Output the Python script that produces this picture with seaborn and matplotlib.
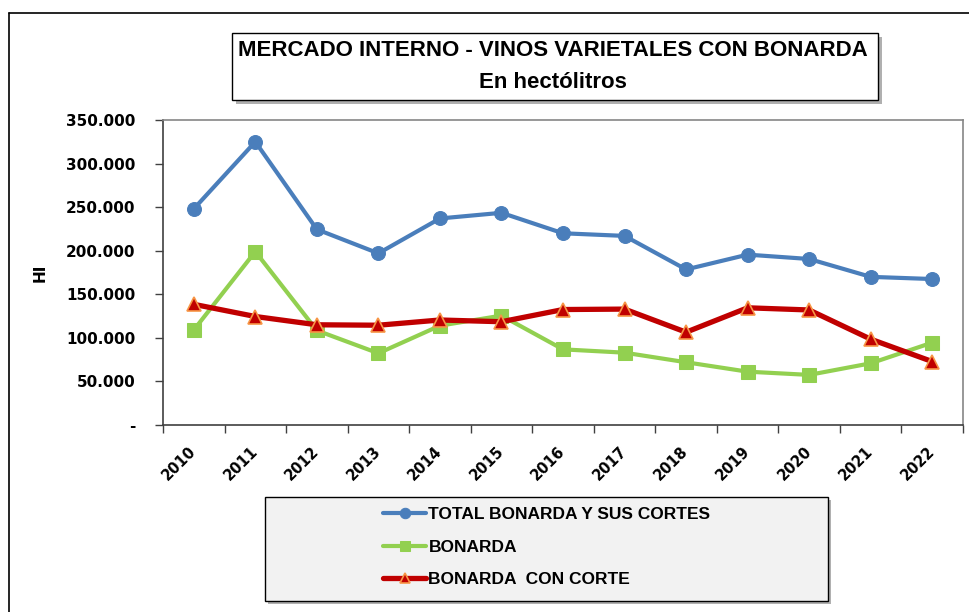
import matplotlib
matplotlib.use("Agg")
import numpy as np
import pandas as pd
import seaborn as sns
import matplotlib.pyplot as plt
from matplotlib.patches import Rectangle
from matplotlib.lines import Line2D

years = ["2010", "2011", "2012", "2013", "2014", "2015", "2016",
         "2017", "2018", "2019", "2020", "2021", "2022"]
total_bonarda = [248000, 325000, 224500, 197000, 237000, 243500, 220000,
                 217000, 178500, 195500, 190500, 170000, 167500]
bonarda = [109000, 199000, 108500, 82300, 114000, 125500, 86800,
           83000, 72000, 61200, 57500, 70800, 94500]
bonarda_corte = [138500, 124500, 115000, 114500, 120500, 118500, 132500,
                 133000, 106500, 134500, 132000, 98500, 72800]
ytick_values = [0, 50000, 100000, 150000, 200000, 250000, 300000, 350000]
ytick_labels = ["-", "50.000", "100.000", "150.000", "200.000", "250.000",
                "300.000", "350.000"]
series_names = ["TOTAL BONARDA Y SUS CORTES", "BONARDA", "BONARDA  CON CORTE"]
title_line1 = "MERCADO INTERNO - VINOS VARIETALES CON BONARDA"
title_line2 = "En hectólitros"
ylabel = "HI"

sns.set_theme(style="white")
plt.rcParams["font.family"] = ["DejaVu Sans"]
plt.rcParams["text.color"] = "black"
plt.rcParams["axes.labelcolor"] = "black"
plt.rcParams["xtick.color"] = "black"
plt.rcParams["ytick.color"] = "black"
narrow = ["Liberation Sans", "DejaVu Sans"]

W, H = 970, 612
fig = plt.figure(figsize=(W / 100, H / 100), dpi=100)
fig.patch.set_facecolor("white")

def fx(px):
    return px / W

def fy(py):
    return 1 - py / H

ax = fig.add_axes([fx(163), fy(425), fx(963) - fx(163), fy(120) - fy(425)])

xpos = np.arange(len(years))
df = pd.DataFrame({"x": xpos, "total": total_bonarda, "bon": bonarda, "corte": bonarda_corte})

sns.lineplot(data=df, x="x", y="total", ax=ax, color="#4a7ebb", lw=3.0,
             marker="o", markersize=10, markeredgecolor="#4a7ebb",
             label=series_names[0], sort=False)
sns.lineplot(data=df, x="x", y="bon", ax=ax, color="#92d050", lw=3.0,
             marker="s", markersize=9.5, markeredgecolor="#92d050",
             label=series_names[1], sort=False)
sns.lineplot(data=df, x="x", y="corte", ax=ax, color="#c00000", lw=3.8,
             marker="^", markersize=10, markeredgecolor="#f79646", markeredgewidth=1.2,
             label=series_names[2], sort=False)

ax.set_ylim(0, 350000)
ax.set_yticks(ytick_values)
ax.set_yticklabels(ytick_labels, fontsize=11, fontweight="bold", color="black")
ax.set_xlim(-0.5, len(years) - 0.5)
ax.set_xticks(np.arange(-0.5, len(years), 1.0))
ax.set_xticklabels([])
ax.set_xticks(xpos, minor=True)
ax.set_xticklabels(years, minor=True, rotation=45, ha="right", va="center",
                   rotation_mode="anchor", fontsize=10.5, fontweight="bold", color="black")
ax.tick_params(axis="x", which="major", direction="out", length=6, width=1, color="#404040", bottom=True)
ax.tick_params(axis="x", which="minor", length=0, pad=17, bottom=True)
ax.tick_params(axis="y", which="major", direction="out", length=6, width=1, color="#404040", left=True, pad=14)
ax.set_xlabel("")
ax.set_ylabel(ylabel, fontsize=11, fontweight="bold", color="black")
ax.yaxis.set_label_coords((48 - 163) / 800, 0.5)

for s in ["left", "bottom"]:
    ax.spines[s].set_color("#404040")
    ax.spines[s].set_linewidth(1.2)
for s in ["top", "right"]:
    ax.spines[s].set_color("#868686")
    ax.spines[s].set_linewidth(1.2)
ax.grid(False)

handles, labels = ax.get_legend_handles_labels()
ax.get_legend().remove()

# outer frame
fig.add_artist(Line2D([fx(9), fx(9)], [0, fy(13)], color="black", lw=1.2, transform=fig.transFigure))
fig.add_artist(Line2D([fx(9), 1], [fy(13), fy(13)], color="black", lw=1.2, transform=fig.transFigure))

# title box
fig.add_artist(Rectangle((fx(236), fy(104)), fx(878) - fx(232), fy(33) - fy(100),
                         transform=fig.transFigure, facecolor="#b0b0b0", edgecolor="none", zorder=1))
fig.add_artist(Rectangle((fx(232), fy(100)), fx(878) - fx(232), fy(33) - fy(100),
                         transform=fig.transFigure, facecolor="white", edgecolor="black", lw=1, zorder=2))
fig.text(fx(553), fy(51), title_line1, ha="center", va="center", fontsize=16,
         fontweight="bold", family=narrow, color="black", zorder=3)
fig.text(fx(553), fy(83), title_line2, ha="center", va="center", fontsize=16,
         fontweight="bold", family=narrow, color="black", zorder=3)

# legend box
fig.add_artist(Rectangle((fx(268), fy(604)), fx(828) - fx(265), fy(497) - fy(601),
                         transform=fig.transFigure, facecolor="#b0b0b0", edgecolor="none", zorder=1))
fig.add_artist(Rectangle((fx(265), fy(601)), fx(828) - fx(265), fy(497) - fy(601),
                         transform=fig.transFigure, facecolor="#f2f2f2", edgecolor="black", lw=1, zorder=2))
leg = fig.legend(handles, labels, loc="upper left", bbox_to_anchor=(fx(383), fy(507)),
                 frameon=False, prop={"family": narrow, "weight": "bold", "size": 12.5},
                 handlelength=2.5, handletextpad=0.12, labelspacing=1.0,
                 borderaxespad=0, borderpad=0, markerscale=0.75)
for t in leg.get_texts():
    t.set_color("black")
leg.set_zorder(5)

fig.savefig("out.png", dpi=100, facecolor="white")
